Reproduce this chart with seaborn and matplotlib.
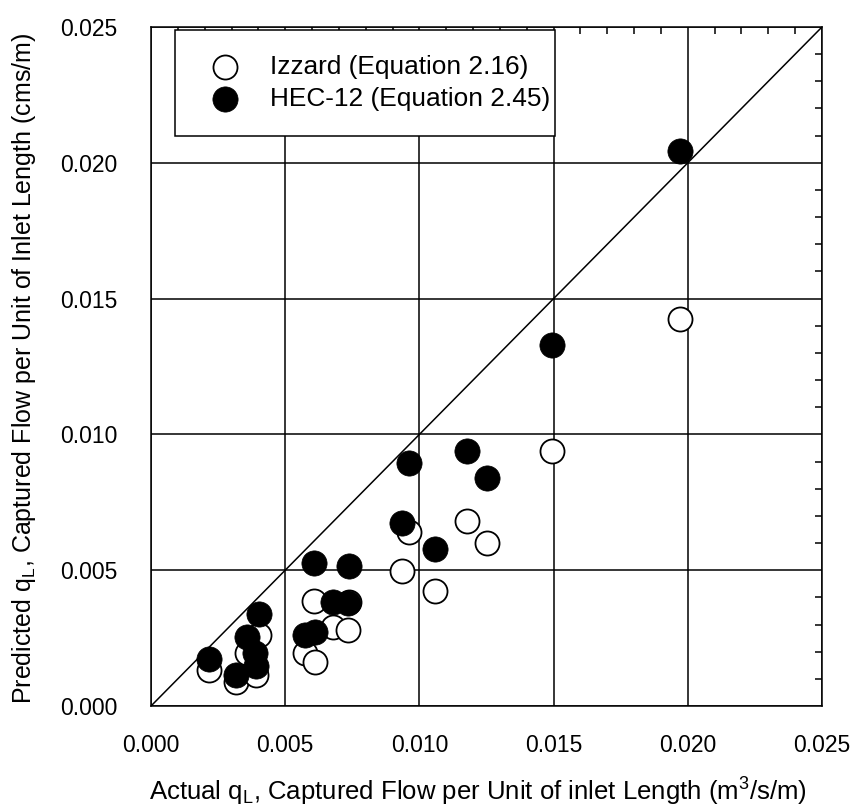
import matplotlib
matplotlib.use("Agg")
import matplotlib.pyplot as plt
import seaborn as sns
import pandas as pd
from matplotlib.ticker import MultipleLocator, FormatStrFormatter

# Measured captured flow per unit inlet length (m^3/s/m)
actual = [0.01970, 0.01493, 0.01178, 0.01251, 0.00962, 0.00934, 0.01058,
          0.00609, 0.00739, 0.00679, 0.00735, 0.00572, 0.00612,
          0.00217, 0.00317, 0.00356, 0.00404, 0.00388, 0.00390]
# Predictions from the two inlet equations
izzard = [0.01425, 0.00940, 0.00681, 0.00599, 0.00642, 0.00497, 0.00423,
          0.00387, 0.00384, 0.00290, 0.00280, 0.00194, 0.00163,
          0.00133, 0.00090, 0.00196, 0.00261, 0.00130, 0.00114]
hec12 = [0.02045, 0.01329, 0.00939, 0.00841, 0.00896, 0.00673, 0.00578,
         0.00525, 0.00515, 0.00384, 0.00378, 0.00261, 0.00272,
         0.00172, 0.00114, 0.00253, 0.00339, 0.00194, 0.00148]
series_names = ["Izzard (Equation 2.16)", "HEC-12 (Equation 2.45)"]
axis_limits = [0.0, 0.025]

df = pd.DataFrame({
    "actual": actual + actual,
    "predicted": izzard + hec12,
    "method": [series_names[0]] * len(actual) + [series_names[1]] * len(actual),
})

sns.set_theme(style="white")
plt.rcParams["font.family"] = ["Liberation Sans", "DejaVu Sans"]
plt.rcParams["mathtext.default"] = "regular"

fig = plt.figure(figsize=(8.57, 8.11), dpi=100)
ax = fig.add_axes([151 / 857, 1 - 706 / 811, 671 / 857, 679 / 811])

lw = 1.1
ax.grid(True, which="major", color="black", linewidth=lw, zorder=1)
ax.set_axisbelow(True)
ax.axline((axis_limits[0], axis_limits[0]), slope=1, color="black",
          linewidth=lw, zorder=2)

sub = df[df["method"] == series_names[0]]
sns.scatterplot(data=sub, x="actual", y="predicted", ax=ax, marker="o", s=300,
                color="white", edgecolor="black", linewidth=1.3, zorder=3,
                label=series_names[0])
sub = df[df["method"] == series_names[1]]
sns.scatterplot(data=sub, x="actual", y="predicted", ax=ax, marker="o", s=330,
                color="black", edgecolor="black", linewidth=0.5, zorder=4,
                label=series_names[1])

ax.set_xlim(axis_limits)
ax.set_ylim(axis_limits)
for a in (ax.xaxis, ax.yaxis):
    a.set_major_locator(MultipleLocator(0.005))
    a.set_minor_locator(MultipleLocator(0.001))
    a.set_major_formatter(FormatStrFormatter("%.3f"))

ax.tick_params(which="both", direction="in", top=True, right=True,
               colors="black", width=lw, labelsize=16.5)
ax.tick_params(which="major", length=0)
ax.tick_params(which="minor", length=5)
ax.tick_params(axis="x", pad=20)
ax.tick_params(axis="y", pad=24)
for sp in ax.spines.values():
    sp.set_color("black")
    sp.set_linewidth(lw)

ax.set_xlabel(r"Actual q$_{L}$, Captured Flow per Unit of inlet Length (m$^{3}$/s/m)",
              fontsize=18.5, color="black")
ax.xaxis.set_label_coords(0.487, -0.103)
ax.set_ylabel(r"Predicted q$_{L}$, Captured Flow per Unit of Inlet Length (cms/m)",
              fontsize=18, color="black")
ax.yaxis.set_label_coords(-0.169, 0.497)

leg = ax.legend(loc="upper left", bbox_to_anchor=(24 / 671, 0.0, 380 / 671, 676 / 679),
                mode="expand", frameon=True, fancybox=False, edgecolor="black",
                framealpha=1, fontsize=18.9, borderpad=0.95, handlelength=1.9,
                handletextpad=0.75, labelspacing=0.3, borderaxespad=0)
leg.get_frame().set_linewidth(lw)
for t in leg.get_texts():
    t.set_color("black")

fig.savefig("out.png", dpi=100, facecolor="white")
